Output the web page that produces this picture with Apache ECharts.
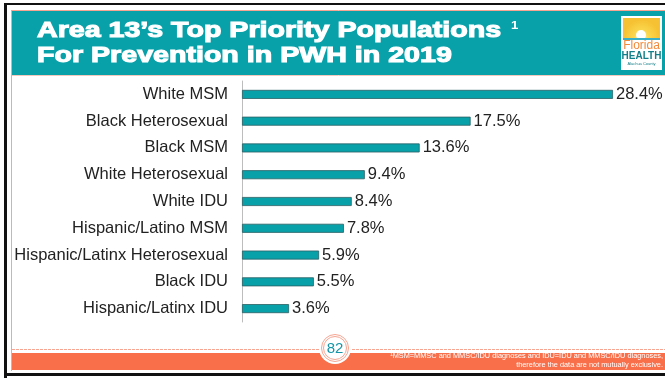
<!DOCTYPE html>
<html><head><meta charset="utf-8">
<script src="https://cdn.jsdelivr.net/npm/echarts@6/dist/echarts.min.js"></script>
<style>html,body{margin:0;padding:0;background:#fff}#c{width:665px;height:378px}</style>
</head><body><div id="c"></div>
<script>
const categories = ["White MSM","Black Heterosexual","Black MSM","White Heterosexual","White IDU","Hispanic/Latino MSM","Hispanic/Latinx Heterosexual","Black IDU","Hispanic/Latinx IDU"];
const values = [28.4,17.5,13.6,9.4,8.4,7.8,5.9,5.5,3.6];
const titleLines = ["Area 13\u2019s Top Priority Populations","For Prevention in PWH in 2019"];
const footnoteLines = ["\u00b9MSM=MMSC and MMSC/IDU diagnoses and IDU=IDU and MMSC/IDU diagnoses,","therefore the data are not mutually exclusive."];
const pageNumber = "82";

const TEAL = "#08a1aa", ORANGE = "#f96f4a", SALMON = "#f6a592";
const chart = echarts.init(document.getElementById('c'), null, {renderer:'canvas'});
const font = '"Liberation Sans", Arial, sans-serif';

chart.setOption({
  animation:false,
  backgroundColor:'#fff',
  grid:{left:242, top:81, width:371, height:241},
  xAxis:{type:'value', min:0, max:28.4, show:false},
  yAxis:{type:'category', data:categories, inverse:true,
    axisLine:{show:true, lineStyle:{color:'#bdbdbd', width:1}},
    axisTick:{show:false},
    axisLabel:{color:'#222', fontFamily:font, fontSize:16.5, margin:14}},
  series:[{type:'bar', data:values, barWidth:9,
    itemStyle:{color:TEAL, borderColor:'#2c5f63', borderWidth:0.8},
    label:{show:true, position:'right', distance:3, color:'#222', fontFamily:font, fontSize:16.5,
      formatter:p=>p.value.toFixed(1)+'%'}}],
  graphic:[
    // frame
    {type:'rect', shape:{x:4,y:3,width:661,height:2}, style:{fill:'#111'}, z:100},
    {type:'rect', shape:{x:4,y:3,width:3,height:375}, style:{fill:'#111'}, z:100},
    {type:'rect', shape:{x:4,y:373,width:661,height:3}, style:{fill:'#111'}, z:100},
    // salmon outline
    {type:'line', shape:{x1:11.5,y1:10,x2:11.5,y2:371}, style:{stroke:SALMON, lineWidth:1}, z:100},
    {type:'line', shape:{x1:11.5,y1:10.5,x2:665,y2:10.5}, style:{stroke:SALMON, lineWidth:1}, z:100},
    // header
    {type:'rect', shape:{x:12,y:11,width:653,height:64}, style:{fill:TEAL}, z:100},
    {type:'line', shape:{x1:12,y1:75.5,x2:665,y2:75.5}, style:{stroke:'#f3c9bd', lineWidth:1}, z:100},
    {type:'text', x:37, y:31, scaleX:1.3, style:{text:titleLines[0], fill:'#fff', stroke:'#fff', lineWidth:1.1, font:'bold 22px '+font, verticalAlign:'middle'}, z:101},
    {type:'text', x:511, y:25.5, scaleX:1.2, style:{text:'1', fill:'#fff', font:'bold 11px '+font, verticalAlign:'middle'}, z:101},
    {type:'text', x:37, y:55.5, scaleX:1.3, style:{text:titleLines[1], fill:'#fff', stroke:'#fff', lineWidth:1.1, font:'bold 22px '+font, verticalAlign:'middle'}, z:101},
    // logo
    {type:'rect', shape:{x:621,y:16,width:41,height:54}, style:{fill:'#fff'}, z:101},
    {type:'rect', shape:{x:623,y:18,width:37,height:20}, style:{fill:new echarts.graphic.RadialGradient(0.5,1,0.9,[{offset:0,color:'#fff3b0'},{offset:0.4,color:'#fbd84f'},{offset:1,color:'#f6c233'}])}, z:102},
    {type:'circle', shape:{cx:641,cy:35,r:5}, style:{fill:'#fff'}, z:103},
    {type:'rect', shape:{x:623,y:38,width:37,height:2}, style:{fill:'#3ab0c8'}, z:103},
    {type:'text', x:641.5, y:40, style:{text:'Florida', fill:'#f28a3b', font:'12px "Liberation Sans Narrow", '+font, align:'center'}, z:103},
    {type:'text', x:641.5, y:51, style:{text:'HEALTH', fill:'#137f8a', font:'bold 10px "Liberation Sans Narrow", '+font, align:'center'}, z:103},
    {type:'text', x:641.5, y:62, style:{text:'Alachua County', fill:'#137f8a', font:'4px '+font, align:'center'}, z:103},
    // footer
    {type:'line', shape:{x1:12,y1:349.5,x2:665,y2:349.5}, style:{stroke:SALMON, lineWidth:1, lineDash:[3,1]}, z:100},
    {type:'rect', shape:{x:12,y:353,width:653,height:17}, style:{fill:ORANGE}, z:100},
    {type:'text', x:663, y:352, scaleX:0.92, style:{text:footnoteLines[0], fill:'#fff', font:'8px '+font, align:'right'}, z:101},
    {type:'text', x:663, y:360.5, scaleX:0.92, style:{text:footnoteLines[1], fill:'#fff', font:'8px '+font, align:'right'}, z:101},
    {type:'circle', shape:{cx:335,cy:348,r:16}, style:{fill:'#fff'}, z:102},
    {type:'circle', shape:{cx:335,cy:348,r:13.5}, style:{fill:'none', stroke:SALMON, lineWidth:1}, z:103},
    {type:'circle', shape:{cx:335,cy:348,r:11.5}, style:{fill:'none', stroke:SALMON, lineWidth:1}, z:103},
    {type:'text', x:335, y:348.5, style:{text:pageNumber, fill:'#1596a8', font:'15px '+font, align:'center', verticalAlign:'middle'}, z:104}
  ]
});
</script></body></html>
